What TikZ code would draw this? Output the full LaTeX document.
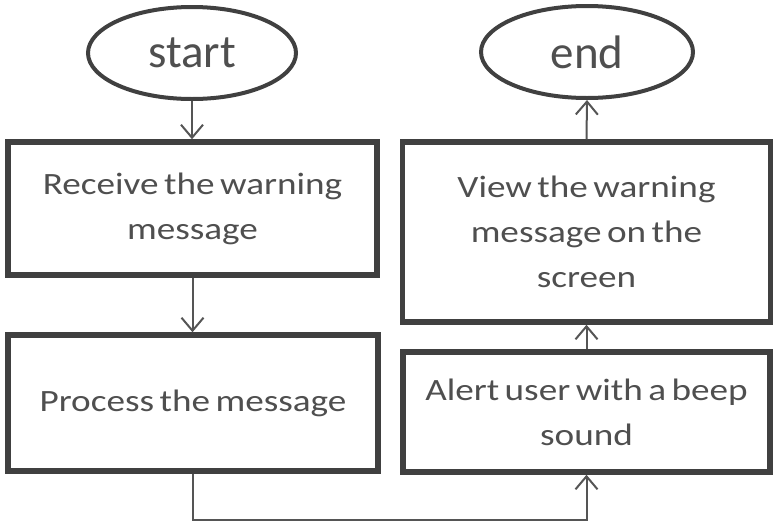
\documentclass[tikz,border=0pt]{standalone}
\usepackage{fontspec}
\setmainfont{Carlito}
\newfontfamily\bodyfont[FakeStretch=1.2,WordSpace=0.65]{Carlito}
\usetikzlibrary{shapes.geometric,arrows.meta}
\definecolor{edgegray}{HTML}{404040}
\definecolor{textgray}{HTML}{4F4F4F}
\definecolor{wiregray}{HTML}{555555}
\tikzset{
  terminal/.style={ellipse, draw=edgegray, line width=4pt, inner sep=0pt,
    minimum width=208pt, minimum height=92pt, text=textgray,
    font=\fontsize{47}{50}\selectfont},
  stepbox/.style={rectangle, draw=edgegray, line width=5.5pt, inner sep=0pt,
    text=textgray, align=center, font=\bodyfont\fontsize{31}{45}\selectfont},
  flow/.style={draw=wiregray, line width=2pt,
    -{Straight Barb[length=13pt,width=22pt]}}
}
\begin{document}
\begin{tikzpicture}[x=1pt,y=-1pt]
  \useasboundingbox (0,0) rectangle (776,523);

  % terminals
  \node[terminal] (start) at (192,53) {start};
  \node[terminal, minimum width=212pt] (end) at (587,52) {end};

  % left column
  \node[stepbox, minimum width=369pt, minimum height=133pt] (recv) at (192.5,208.5)
    {Receive the warning\\message};
  \node[stepbox, minimum width=370pt, minimum height=136pt] (proc) at (193,403)
    {Process the message};

  % right column
  \node[stepbox, minimum width=368pt, minimum height=180pt] (view) at (586.5,232)
    {View the warning\\message on the\\screen};
  \node[stepbox, minimum width=367pt, minimum height=120pt] (alert) at (586.5,412)
    {Alert user with a beep\\sound};

  % return path below the columns
  \coordinate (under) at (390,520);

  % connectors
  \draw[flow] (start.south) -- (start.south |- recv.north);
  \draw[flow] (recv.south) -- (recv.south |- proc.north);
  \draw[flow] (proc.south) -- (proc.south |- under) -- (alert.south |- under) -- (alert.south);
  \draw[flow] (alert.north) -- (view.south);
  \draw[flow] (view.north) -- (end.south);
\end{tikzpicture}
\end{document}
